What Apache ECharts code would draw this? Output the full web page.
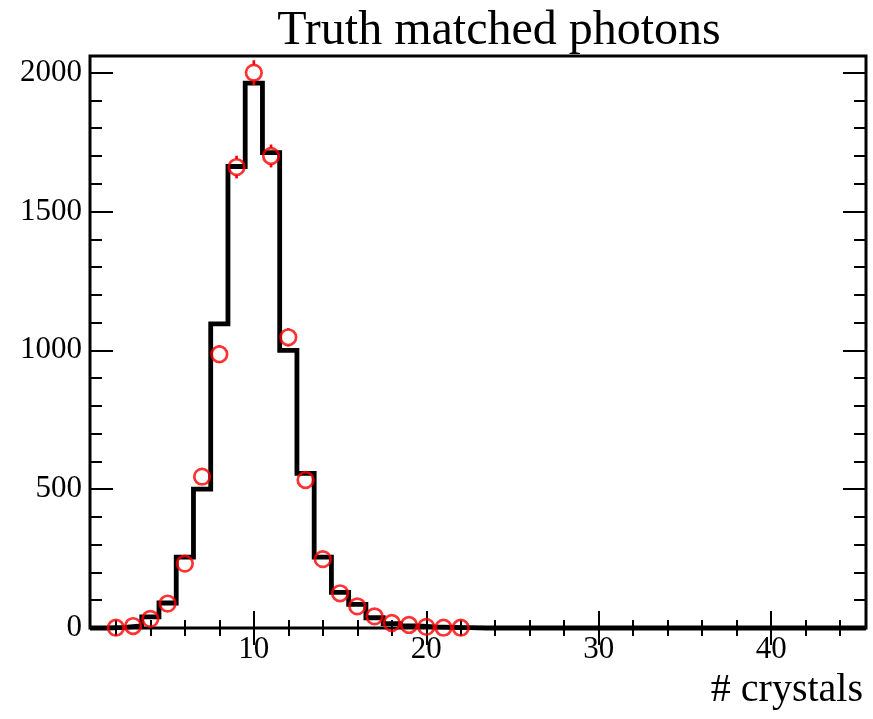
<!DOCTYPE html>
<html><head><meta charset="utf-8">
<script src="https://cdn.jsdelivr.net/npm/echarts@6/dist/echarts.min.js"></script>
<style>html,body{margin:0;padding:0;background:#fff}#c{width:873px;height:719px}</style>
</head><body><div id="c"></div>
<script>
// ---- data ----
const binCenters = [1,2,3,4,5,6,7,8,9,10,11,12,13,14,15,16,17,18,19,20,21,22,23,24,25,26,27,28,29,30,31,32,33,34,35,36,37,38,39,40,41,42,43,44,45];
const histValues = [0,2,8,40,90,255,500,1095,1662,1962,1712,1000,557,255,128,85,37,16,8,4,2,1,0,0,0,0,0,0,0,0,0,0,0,0,0,0,0,0,0,0,0,0,0,0,0];
const pointX = [2,3,4,5,6,7,8,9,10,11,12,13,14,15,16,17,18,19,20,21,22];
const pointValues = [1,7,33,88,232,545,986,1660,2000,1700,1047,533,248,125,78,42,18,11,4,1,1];
const pointErrors = [1,2.6,5.7,9.4,15.2,23.3,31.4,40.7,44.7,41.2,32.4,23.1,15.7,11.2,8.8,6.5,4.2,3.3,2,1,1];
const xMajorTicks = [10,20,30,40];
const xMinorTicks = [2,4,6,8,10,12,14,16,18,20,22,24,26,28,30,32,34,36,38,40,42,44];
const yMajorTicks = [0,500,1000,1500,2000];
const yMinorTicks = [0,100,200,300,400,500,600,700,800,900,1000,1100,1200,1300,1400,1500,1600,1700,1800,1900,2000];
const titleText = 'Truth matched photons';
const xTitle = '# crystals';

const FONT = '"Liberation Serif", "Times New Roman", serif';
const X_MIN = 0.5, X_MAX = 45.5, Y_MIN = 0, Y_MAX = 2060;
const plain = v => String(v);

function xAx(pos, vals, len, showLabel) {
  return {
    type: 'value', min: X_MIN, max: X_MAX, position: pos, gridIndex: 0,
    axisLine: {show: false}, splitLine: {show: false},
    axisTick: {show: true, inside: true, length: len, customValues: vals, lineStyle: {color: '#000', width: 2}},
    axisLabel: {show: showLabel, customValues: vals, formatter: plain, fontFamily: FONT, fontSize: 31, color: '#000', margin: 6, lineHeight: 31}
  };
}
function yAx(pos, vals, len, showLabel) {
  return {
    type: 'value', min: Y_MIN, max: Y_MAX, position: pos, gridIndex: 0,
    axisLine: {show: false}, splitLine: {show: false},
    axisTick: {show: true, inside: true, length: len, customValues: vals, lineStyle: {color: '#000', width: 2}},
    axisLabel: {show: showLabel, customValues: vals, formatter: plain, fontFamily: FONT, fontSize: 31, color: '#000', margin: 8}
  };
}

const histData = [];
binCenters.forEach((c, i) => {
  histData.push([c - 0.5, histValues[i]]);
  histData.push([c + 0.5, histValues[i]]);
});
const pointData = pointX.map((x, i) => [x, pointValues[i], pointErrors[i]]);

const chart = echarts.init(document.getElementById('c'), null, {renderer: 'canvas'});
const R = 8;
chart.setOption({
  animation: false,
  backgroundColor: '#fff',
  title: {
    text: titleText, left: 494, top: 2, textAlign: 'center',
    textStyle: {fontFamily: FONT, fontSize: 48, fontWeight: 'normal', color: '#000'}
  },
  grid: {left: 90, right: 7, top: 56, bottom: 91, show: true, borderColor: '#000', borderWidth: 3, backgroundColor: 'transparent'},
  xAxis: [
    xAx('bottom', xMajorTicks, 17, true),
    xAx('bottom', xMinorTicks, 8, false),
    xAx('top', xMajorTicks, 17, false),
    xAx('top', xMinorTicks, 8, false)
  ],
  yAxis: [
    yAx('left', yMajorTicks, 23, true),
    yAx('left', yMinorTicks, 12, false),
    yAx('right', yMajorTicks, 23, false),
    yAx('right', yMinorTicks, 12, false)
  ],
  graphic: [{
    type: 'text', right: 10, top: 670,
    style: {text: xTitle, font: '40px ' + FONT, fill: '#000'}
  }],
  series: [
    {
      type: 'line', xAxisIndex: 0, yAxisIndex: 0, data: histData, showSymbol: false, symbol: 'none',
      clip: false, lineStyle: {color: '#000', width: 4.8, join: 'miter', cap: 'butt'}, z: 2
    },
    {
      type: 'scatter', xAxisIndex: 0, yAxisIndex: 0, data: pointData, symbol: 'circle', symbolSize: 15.6,
      clip: false, itemStyle: {color: 'transparent', borderColor: '#ff0000', borderWidth: 2.7}, z: 3
    },
    {
      type: 'custom', xAxisIndex: 0, yAxisIndex: 0, data: pointData, clip: false, z: 3,
      renderItem: function (params, api) {
        const x = api.value(0), v = api.value(1), e = api.value(2);
        const c = api.coord([x, v]);
        const t = api.coord([x, v + e]);
        const b = api.coord([x, v - e]);
        const children = [];
        const st = {stroke: '#ff0000', lineWidth: 2.7};
        if (c[1] - t[1] > R) children.push({type: 'line', shape: {x1: c[0], y1: t[1], x2: c[0], y2: c[1] - R}, style: st});
        if (b[1] - c[1] > R) children.push({type: 'line', shape: {x1: c[0], y1: c[1] + R, x2: c[0], y2: b[1]}, style: st});
        return {type: 'group', children: children};
      }
    }
  ]
});
</script></body></html>
